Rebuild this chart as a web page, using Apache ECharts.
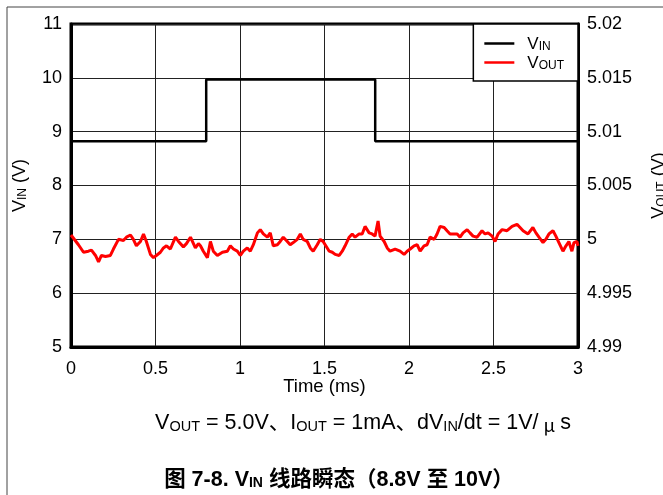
<!DOCTYPE html>
<html>
<head>
<meta charset="utf-8">
<script src="https://cdn.jsdelivr.net/npm/echarts@6/dist/echarts.min.js"></script>
<style>
html,body{margin:0;padding:0;background:#fff;}
#chart{width:663px;height:495px;}
</style>
</head>
<body>
<div id="chart"></div>
<script>
// ---- data ----
const seriesNames = ['VIN', 'VOUT'];
const xTicks = [0, 0.5, 1, 1.5, 2, 2.5, 3];
const vinTime = [0, 0.8, 0.8, 1.8, 1.8, 3.0];
const vinValues = [8.82, 8.82, 9.97, 9.97, 8.82, 8.82];
const voutTime = [
  0,0.044,0.074,0.103,0.121,0.145,0.163,0.180,0.204,0.233,
  0.251,0.281,0.310,0.328,0.352,0.369,0.387,0.411,0.429,0.446,
  0.470,0.488,0.505,0.529,0.547,0.565,0.588,0.618,0.636,0.665,
  0.683,0.707,0.736,0.754,0.766,0.783,0.807,0.825,0.842,0.866,
  0.896,0.925,0.943,0.961,0.984,1.002,1.020,1.043,1.061,1.079,
  1.103,1.120,1.138,1.162,1.179,1.197,1.221,1.238,1.256,1.280,
  1.297,1.315,1.339,1.357,1.374,1.398,1.416,1.433,1.457,1.475,
  1.492,1.504,1.528,1.546,1.563,1.587,1.605,1.622,1.646,1.664,
  1.681,1.705,1.723,1.740,1.764,1.782,1.799,1.817,1.829,1.853,
  1.871,1.888,1.918,1.947,1.971,1.989,2.007,2.030,2.048,2.066,
  2.089,2.107,2.125,2.149,2.166,2.184,2.208,2.225,2.243,2.285,
  2.302,2.320,2.344,2.361,2.379,2.403,2.432,2.450,2.468,2.492,
  2.509,2.527,2.551,2.580,2.610,2.639,2.657,2.675,2.704,2.733,
  2.751,2.769,2.793,2.810,2.828,2.852,2.869,2.887,2.911,2.929,
  2.946,2.964,2.976,2.994,3.0
];
const voutValues = [
  5.0004,4.9995,4.9988,4.9989,4.9990,4.9985,4.9979,4.9985,4.9984,4.9985,
  4.9991,5.0000,4.9999,5.0002,5.0004,5.0000,4.9994,4.9998,5.0005,4.9998,
  4.9986,4.9983,4.9985,4.9988,4.9992,4.9994,4.9991,5.0002,4.9998,4.9993,
  4.9996,5.0002,4.9992,4.9996,4.9994,4.9989,4.9983,4.9998,4.9989,4.9985,
  4.9988,4.9989,4.9994,4.9991,4.9989,4.9985,4.9989,4.9992,4.9989,4.9995,
  5.0006,5.0009,5.0005,5.0002,5.0006,4.9994,4.9995,4.9998,5.0002,4.9998,
  4.9995,4.9997,5.0000,5.0005,5.0000,4.9998,4.9992,4.9989,4.9995,5.0000,
  4.9998,4.9995,4.9989,4.9988,4.9986,4.9985,4.9989,4.9994,5.0002,5.0005,
  5.0002,5.0005,5.0005,5.0012,5.0006,5.0005,5.0003,5.0017,5.0003,4.9998,
  4.9992,4.9989,4.9991,4.9989,4.9986,4.9989,4.9991,4.9994,4.9995,4.9989,
  4.9994,4.9995,5.0002,5.0000,5.0005,5.0012,5.0011,5.0008,5.0005,5.0005,
  5.0002,5.0006,5.0009,5.0006,5.0003,5.0002,5.0008,5.0005,5.0006,5.0003,
  4.9998,5.0005,5.0009,5.0008,5.0012,5.0014,5.0011,5.0008,5.0005,5.0011,
  5.0006,5.0002,4.9997,5.0000,5.0005,5.0008,5.0003,4.9997,4.9989,4.9994,
  4.9998,4.9989,4.9997,4.9998,4.9994
];
const leftTicks = [5, 6, 7, 8, 9, 10, 11];
const rightTicks = [4.99, 4.995, 5, 5.005, 5.01, 5.015, 5.02];

// ---- chart ----
const FONT = '"Liberation Sans", Arial, "Noto Sans CJK SC", sans-serif';
const subRich = {
  n: { fontSize: 18, fontFamily: FONT, color: '#000', verticalAlign: 'bottom', lineHeight: 20 },
  s: { fontSize: 12, fontFamily: FONT, color: '#000', verticalAlign: 'bottom', lineHeight: 15 }
};
const legendRich = {
  n: { fontSize: 17, fontFamily: FONT, color: '#000', verticalAlign: 'bottom', lineHeight: 19 },
  s: { fontSize: 12, fontFamily: FONT, color: '#000', verticalAlign: 'bottom', lineHeight: 15 }
};
const chart = echarts.init(document.getElementById('chart'), null, { renderer: 'canvas' });
const zip = (a, b) => a.map((v, i) => [v, b[i]]);

chart.setOption({
  animation: false,
  backgroundColor: '#fff',
  textStyle: { fontFamily: FONT },
  grid: { left: 71, right: 85, top: 24, bottom: 148, show: true, borderColor: '#000', borderWidth: 3,
    backgroundColor: 'transparent', containLabel: false, outerBoundsMode: 'none' },
  legend: {
    orient: 'vertical', right: 85, top: 24,
    data: seriesNames,
    backgroundColor: '#fff', borderColor: '#000', borderWidth: 1.5, borderRadius: 0,
    padding: [12, 14, 9, 11], itemGap: 2,
    itemWidth: 30, itemHeight: 2.5, icon: 'rect',
    formatter: function (name) { return name === 'VIN' ? '{n|V}{s|IN}' : '{n|V}{s|OUT}'; },
    textStyle: { rich: legendRich, padding: [0, 0, 0, 8] }
  },
  xAxis: {
    type: 'value', min: xTicks[0], max: xTicks[xTicks.length - 1], interval: 0.5,
    name: 'Time (ms)', nameLocation: 'middle', nameGap: 31, nameMoveOverlap: false,
    nameTextStyle: { fontSize: 18.5, color: '#000', fontFamily: FONT },
    axisLine: { show: true, onZero: false, lineStyle: { color: '#000', width: 3 } },
    axisTick: { show: false },
    axisLabel: { fontSize: 18, color: '#000', margin: 13, fontFamily: FONT },
    splitLine: { show: true, lineStyle: { color: '#222', width: 1 } }
  },
  yAxis: [{
    type: 'value', min: leftTicks[0], max: leftTicks[leftTicks.length - 1], interval: 1,
    name: '{n|V}{s|IN}{n| (V)}', nameLocation: 'middle', nameRotate: 90, nameGap: 42, nameMoveOverlap: false,
    nameTextStyle: { rich: subRich },
    axisLine: { show: true, lineStyle: { color: '#000', width: 3 } },
    axisTick: { show: false },
    axisLabel: { fontSize: 18, color: '#000', margin: 9, fontFamily: FONT },
    splitLine: { show: true, lineStyle: { color: '#222', width: 1 } }
  }, {
    type: 'value', min: rightTicks[0], max: rightTicks[rightTicks.length - 1], interval: 0.005,
    name: '{n|V}{s|OUT}{n| (V)}', nameLocation: 'middle', nameRotate: 90, nameGap: 70, nameMoveOverlap: false,
    nameTextStyle: { rich: subRich },
    axisLine: { show: true, lineStyle: { color: '#000', width: 3 } },
    axisTick: { show: false },
    axisLabel: { fontSize: 18, color: '#000', margin: 9, fontFamily: FONT,
      formatter: function (v) { return String(Math.round(v * 1000) / 1000); } },
    splitLine: { show: false }
  }],
  series: [{
    name: seriesNames[0], type: 'line', yAxisIndex: 0, showSymbol: false, symbol: 'none',
    data: zip(vinTime, vinValues),
    lineStyle: { color: '#000', width: 2.5 }, itemStyle: { color: '#000' }, z: 3
  }, {
    name: seriesNames[1], type: 'line', yAxisIndex: 1, showSymbol: false, symbol: 'none',
    data: zip(voutTime, voutValues),
    lineStyle: { color: '#ff0000', width: 3 }, itemStyle: { color: '#ff0000' }, z: 3
  }],
  graphic: [
    { type: 'line', shape: { x1: 7, y1: 7, x2: 663, y2: 7 }, style: { stroke: '#444', lineWidth: 1 }, silent: true },
    { type: 'line', shape: { x1: 7, y1: 7, x2: 7, y2: 495 }, style: { stroke: '#444', lineWidth: 1 }, silent: true },
    {
      type: 'text', x: 363, y: 422,
      style: {
        text: '{n|V}{s|OUT}{n| = 5.0V、I}{s|OUT}{n| = 1mA、dV}{s|IN}{n|/dt = 1V/}{m|μ}{n|s}',
        align: 'center', verticalAlign: 'middle',
        rich: {
          n: { fontSize: 21.5, fontFamily: FONT, fill: '#000', verticalAlign: 'bottom', lineHeight: 24 },
          s: { fontSize: 14.5, fontFamily: FONT, fill: '#000', verticalAlign: 'bottom', lineHeight: 17 },
          m: { fontSize: 18.5, fontFamily: '"Noto Sans CJK SC", sans-serif', fill: '#000', verticalAlign: 'bottom', lineHeight: 24, padding: [0, 5, 0, 5] }
        }
      }
    },
    {
      type: 'text', x: 339, y: 478,
      style: {
        text: '{b|图 7-8. V}{s|IN}{b| 线路瞬态（8.8V 至 10V）}',
        align: 'center', verticalAlign: 'middle',
        rich: {
          b: { fontSize: 21.5, fontWeight: 'bold', fontFamily: '"Liberation Sans", "Noto Sans CJK SC", sans-serif', fill: '#000', verticalAlign: 'bottom', lineHeight: 25 },
          s: { fontSize: 14, fontWeight: 'bold', fontFamily: FONT, fill: '#000', verticalAlign: 'bottom', lineHeight: 17 }
        }
      }
    }
  ]
});
</script>
</body>
</html>
